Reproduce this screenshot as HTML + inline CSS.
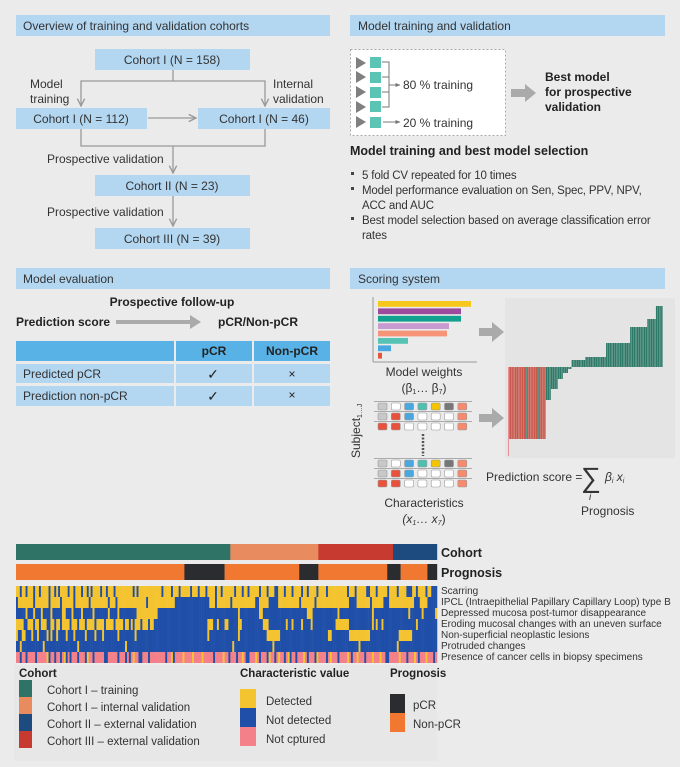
<!DOCTYPE html>
<html><head><meta charset="utf-8">
<style>
html,body{margin:0;padding:0;background:#ebebeb;}
svg{display:block;font-family:"Liberation Sans",sans-serif;}
</style></head>
<body>
<svg id="root" width="680" height="767" viewBox="0 0 680 767" xmlns="http://www.w3.org/2000/svg">
<rect x="0" y="0" width="680" height="767" fill="#ebebeb"/>
<defs>
<marker id="chev" viewBox="0 0 10 10" refX="9" refY="5" markerWidth="7" markerHeight="7" orient="auto-start-reverse"><path d="M1,1 L9,5 L1,9" fill="none" stroke="#999" stroke-width="1.5"/></marker>
<marker id="tri" viewBox="0 0 10 10" refX="9" refY="5" markerWidth="5" markerHeight="5" orient="auto"><path d="M0,1 L10,5 L0,9 z" fill="#777"/></marker>
</defs>

<g font-size="12" fill="#333">
<rect x="16" y="15" width="314" height="21" fill="#b3d6f1"/>
<text x="23" y="30">Overview of training and validation cohorts</text>
<rect x="350" y="15" width="315" height="21" fill="#b3d6f1"/>
<text x="358" y="30">Model training and validation</text>
<rect x="16" y="268" width="314" height="21" fill="#b3d6f1"/>
<text x="23" y="283">Model evaluation</text>
<rect x="350" y="268" width="315" height="21" fill="#b3d6f1"/>
<text x="358" y="283">Scoring system</text>
</g>

<g font-size="12" fill="#333">
<g stroke="#9a9a9a" stroke-width="1.3" fill="none">
<path d="M173,70 V81 H81 V106" marker-end="url(#chev)"/>
<path d="M173,81 H265 V106" marker-end="url(#chev)"/>
<path d="M148,118 H196" marker-end="url(#chev)"/>
<path d="M81,129 V146 H265 V129"/>
<path d="M173,146 V173" marker-end="url(#chev)"/>
<path d="M173,196 V226" marker-end="url(#chev)"/>
</g>
<rect x="95" y="49" width="155" height="21" fill="#b3d6f1"/>
<text x="172" y="64" text-anchor="middle">Cohort I (N = 158)</text>
<rect x="16" y="108" width="131" height="21" fill="#b3d6f1"/>
<text x="81" y="123" text-anchor="middle">Cohort I (N = 112)</text>
<rect x="198" y="108" width="132" height="21" fill="#b3d6f1"/>
<text x="264" y="123" text-anchor="middle">Cohort I (N = 46)</text>
<rect x="95" y="175" width="155" height="21" fill="#b3d6f1"/>
<text x="172" y="190" text-anchor="middle">Cohort II (N = 23)</text>
<rect x="95" y="228" width="155" height="21" fill="#b3d6f1"/>
<text x="172" y="243" text-anchor="middle">Cohort III (N = 39)</text>
<text x="30" y="88">Model</text><text x="30" y="103">training</text>
<text x="273" y="88">Internal</text><text x="273" y="103">validation</text>
<text x="47" y="163">Prospective validation</text>
<text x="47" y="216">Prospective validation</text>
</g>

<g>
<rect x="350.5" y="49.5" width="155" height="86" fill="#fff" stroke="#aaa" stroke-dasharray="2,2"/>
<g fill="#808080">
<path d="M356,57 l10,6 l-10,6z"/><path d="M356,71 l10,6 l-10,6z"/><path d="M356,86 l10,6 l-10,6z"/><path d="M356,101 l10,6 l-10,6z"/><path d="M356,116 l10,6 l-10,6z"/>
</g>
<g fill="#5cc4b4">
<rect x="370" y="57" width="11" height="11"/><rect x="370" y="72" width="11" height="11"/><rect x="370" y="87" width="11" height="11"/><rect x="370" y="101" width="11" height="11"/><rect x="370" y="117" width="11" height="11"/>
</g>
<g stroke="#777" stroke-width="1" fill="none">
<path d="M382,62 H389 V107 H382 M382,77 H389 M382,92 H389"/>
<path d="M389,85 H400" marker-end="url(#tri)"/>
<path d="M383,122 H400" marker-end="url(#tri)"/>
</g>
<text x="403" y="89" font-size="12" fill="#333">80 % training</text>
<text x="403" y="127" font-size="12" fill="#333">20 % training</text>
<path d="M511,89 H525 V84 L536,93 L525,102 V97 H511z" fill="#aaa"/>
<g font-size="12" font-weight="bold" fill="#222"><text x="545" y="81">Best model</text><text x="545" y="96">for prospective</text><text x="545" y="111">validation</text></g>
<text x="350" y="155" font-size="12.5" font-weight="bold" fill="#222">Model training and best model selection</text>
<g font-size="11.5" fill="#333" letter-spacing="-0.15">
<rect x="351" y="172" width="3" height="3" fill="#444"/><text x="362" y="179">5 fold CV repeated for 10 times</text>
<rect x="351" y="187" width="3" height="3" fill="#444"/><text x="362" y="194">Model performance evaluation on Sen, Spec, PPV, NPV,</text>
<text x="362" y="209">ACC and AUC</text>
<rect x="351" y="217" width="3" height="3" fill="#444"/><text x="362" y="224">Best model selection based on average classification error</text>
<text x="362" y="239">rates</text>
</g>
</g>

<g font-size="12" fill="#222">
<text x="172" y="306" text-anchor="middle" font-weight="bold">Prospective follow-up</text>
<text x="16" y="326" font-weight="bold">Prediction score</text>
<path d="M116,320 H190 V315 L201,322 L190,329 V324 H116z" fill="#aaa"/>
<text x="218" y="326" font-weight="bold">pCR/Non-pCR</text>
<g>
<rect x="16" y="341" width="158" height="20" fill="#58b2e5"/><rect x="176" y="341" width="76" height="20" fill="#58b2e5"/><rect x="254" y="341" width="76" height="20" fill="#58b2e5"/>
<text x="214" y="355" text-anchor="middle" font-weight="bold">pCR</text><text x="292" y="355" text-anchor="middle" font-weight="bold">Non-pCR</text>
<rect x="16" y="364" width="158" height="19" fill="#b3d6f1"/><rect x="176" y="364" width="76" height="19" fill="#b3d6f1"/><rect x="254" y="364" width="76" height="19" fill="#b3d6f1"/>
<rect x="16" y="386" width="158" height="20" fill="#b3d6f1"/><rect x="176" y="386" width="76" height="20" fill="#b3d6f1"/><rect x="254" y="386" width="76" height="20" fill="#b3d6f1"/>
<text x="23" y="378" fill="#333">Predicted pCR</text><text x="23" y="400" fill="#333">Prediction non-pCR</text>
<text x="213" y="379" text-anchor="middle" font-size="14">✓</text><text x="213" y="401" text-anchor="middle" font-size="14">✓</text>
<text x="292" y="378" text-anchor="middle">×</text><text x="292" y="399" text-anchor="middle">×</text>
</g>
</g>

<g id="weights"></g>
<line x1="373" y1="297" x2="373" y2="362" stroke="#999"/>
<line x1="373" y1="362" x2="477" y2="362" stroke="#999"/>
<g font-size="12" fill="#333" text-anchor="middle">
<text x="424" y="376">Model weights</text>
<text x="424" y="392">(β<tspan font-size="7" dy="2">1</tspan><tspan dy="-2">… β</tspan><tspan font-size="7" dy="2">7</tspan><tspan dy="-2">)</tspan></text>
<text x="424" y="507">Characteristics</text>
<text x="424" y="523" font-style="italic">(x<tspan font-size="7" dy="2">1</tspan><tspan dy="-2">… x</tspan><tspan font-size="7" dy="2">7</tspan><tspan dy="-2" font-style="normal">)</tspan></text>
</g>
<path d="M479,328 H492 V322 L504,332 L492,342 V336 H479z" fill="#aaa"/>
<path d="M479,414 H492 V408 L504,418 L492,428 V422 H479z" fill="#aaa"/>
<g id="subjects"></g>
<text transform="translate(360,458) rotate(-90)" font-size="12" fill="#333">Subject<tspan font-size="7" dy="2">1…J</tspan></text>
<rect x="505" y="298" width="170" height="160" fill="#e4e4e4"/>
<g id="waterfall"></g>
<g font-size="12" fill="#333">
<text x="486" y="481">Prediction score =</text>
<text x="581" y="487" font-size="28">∑</text>
<text x="605" y="481" font-style="italic">β<tspan font-size="7" dy="2">i</tspan><tspan dy="-2"> x</tspan><tspan font-size="7" dy="2">i</tspan></text>
<text x="589" y="500" font-style="italic" font-size="10">i</text>
<text x="581" y="515">Prognosis</text>
</g>

<rect x="14" y="665" width="423" height="96" fill="#e7e7e7"/>
<g id="heatmap"></g>
<g font-size="12.5" font-weight="bold" fill="#222">
<text x="441" y="557">Cohort</text><text x="441" y="577">Prognosis</text>
</g>
<g font-size="10" fill="#333">
<text x="441" y="594">Scarring</text>
<text x="441" y="605">IPCL (Intraepithelial Papillary Capillary Loop) type B</text>
<text x="441" y="616">Depressed mucosa post-tumor disappearance</text>
<text x="441" y="627">Eroding mucosal changes with an uneven surface</text>
<text x="441" y="638">Non-superficial neoplastic lesions</text>
<text x="441" y="649">Protruded changes</text>
<text x="441" y="660">Presence of cancer cells in biopsy specimens</text>
</g>

<g font-size="11.5" fill="#333">
<text x="19" y="677" font-weight="bold" fill="#222">Cohort</text>
<rect x="19" y="680" width="13" height="17" fill="#2e7366"/><text x="47" y="694">Cohort I – training</text>
<rect x="19" y="697" width="13" height="17" fill="#e88c60"/><text x="47" y="711">Cohort I – internal validation</text>
<rect x="19" y="714" width="13" height="17" fill="#1d4b80"/><text x="47" y="728">Cohort II – external validation</text>
<rect x="19" y="731" width="13" height="17" fill="#c63a30"/><text x="47" y="745">Cohort III – external validation</text>
</g>
<g font-size="11.5" fill="#333">
<text x="240" y="677" font-weight="bold" fill="#222">Characteristic value</text>
<rect x="240" y="689" width="16" height="19" fill="#f4c430"/><text x="266" y="705">Detected</text>
<rect x="240" y="708" width="16" height="19" fill="#1f4fa8"/><text x="266" y="724">Not detected</text>
<rect x="240" y="727" width="16" height="19" fill="#f4808a"/><text x="266" y="743">Not cptured</text>
</g>
<g font-size="11.5" fill="#333">
<text x="390" y="677" font-weight="bold" fill="#222">Prognosis</text>
<rect x="390" y="694" width="15" height="19" fill="#2a2c30"/><text x="413" y="709">pCR</text>
<rect x="390" y="713" width="15" height="19" fill="#f07830"/><text x="413" y="728">Non-pCR</text>
</g>
</svg>
<script>
const NS='http://www.w3.org/2000/svg';
const weightValues=[93,83,83,71,69,30,13,4];
const weightColors=['#f7c81c','#9b4a9c','#12a08e','#c79ad0','#f6947a','#56c3b5','#4aa8e0','#e2573c'];
const scoreValues=[-72,-72,-72,-72,-72,-72,-72,-72,-72,-72,-72,-72,-72,-72,-72,-72,-72,-72,-72,-72,-72,-72,-33,-33,-33,-22,-22,-22,-22,-12,-12,-12,-6,-6,-6,-2,-2,7,7,7,7,7,7,7,7,10,10,10,10,10,10,10,10,10,10,10,10,24,24,24,24,24,24,24,24,24,24,24,24,24,24,40,40,40,40,40,40,40,40,40,40,48,48,48,48,48,61,61,61,61];
const scoreClasses='rrrrrrrrrrgrrrrrrgrrrrggggggggggggggggggggggggggggggggggggggggggggggggggggggggggggggggggg';
const cohortCounts=[112,46,39,23];
const cohortNames=['training','internal','cohort-iii','cohort-ii'];
const prognosisRuns=[[88,'n'],[21,'p'],[3,'n'],[36,'n'],[10,'p'],[36,'n'],[7,'p'],[14,'n'],[5,'p']];
const charRows=[
"yybyybyyybyybyyyybyybybyyyybyybyyybyybybyyyybyybyyybyyyyyyyyybybyyyyyyyyyyyybyyyybyyybyyyyybyyybyyybyyyybyybyyyyyybyyybyybyyyyybyyybyyybbyyybyyybyyyybyybyyyybyyyybyyyyyyyyyybyyybyyyyybbyyybyyyyybyyyybyyyybbbyybyyyybyy",
"byyyyyyyybyyyyyyybyyyyybyyyyyybyyyyyyybyyyyyyyyybyyybyyyyyyyyyyyyyyybyyyyyyyyyyyyyybbbbbbbbbbbbbbbbbbyyybyyyyyyybyyyyyyyyyyyybbyyyyybbbbbyyyyyyyyyyybyyyyyyybyyyyyyyyyyyyyyyyybbbbyyyyyyybyyyyyybbbyyyyyyyyyyyyybbbyyyyb",
"bbbbbybbbybbbybbbbybbbbbyybbbybbbbybbbbbybbbbbbbybbbbybbbbbbbbbyyyyyyyyyyybbbbbbbbbbbbbbbbbbbbbbbbbbbbbbbbbbbbbbbbbbybbbbbbbbbbyybbbbbbbbbbbbbbbbbbbbbbbyyybbbbbbbbbbbbbybbbbbbbbbbbbbbbbbybbbbbbbbbbbbbbbbbbybbbbbbybbbbbbybbbb",
"yyyybbyyybyybyyybbyybyybyyyybyyybyyybyyyybyyyybyyyybyyyybyybybyyybyyybyybbbbbbbbbbbbbbbbbbbbbbbbbbbbyyybbybbbyybbbbbyybbbbbbbbbbbyyybbbbbbbbbybbybbbbybbbbybbbbbbbbbbbbyyyyyyybbbbbbbbbbbbybybbybbbbbbbbbbbbbbbbbybbbbbbb",
"ybbyybbbybbybbbbybybbybbbbybbbybbbbbybbbbybbbybbbbbbbybbbbbbbbybbbbbbbbbbbbbbbbbbbbbbbbbbbbbbbbbbbbbybbbbbbbbbbbbbbbybbbbbbbbbbbbbbyyyyyyybbbbbbbbbbbbbbbbbbbbbbbbbyybbbbbbbbbyyyyyyyyyyybbbbbbbbbbbbbbbyyyyyyybbbbbbbbbbbbbbb",
"bbybbbbbbbbbbbybbbbbbbbbbbbbbbbbybbbbbbbbbbbbbbbbbbbbbbbbybbbbbbbbbbbbbbbbbbbbbbbbbbbbbbbbbbbbbbbbbbbbbbbbbbbbbbbybbbbbbbbbbbbbbbbbbbbybbbbbbbbbbbbbbbbbbbbbbbbbbbbbbbbbbbbbbbbbbbbybbbbbbbbbbbbbbbbbbbybbbbbbbbbbbbbb",
"ppbppbppppbpppppybppbppbpybpbpppbpppbyppbpppppbbpppppbpppbpbpyppbbpppbppppppppbppybppppyppppyppppypppppbppppyppbpppbppypbbpppypbpppbyppbpyppbpybppbpppypbpppbyppppbpypppbppppypbppypppbpppypppyppbbpppppypppbpppypbpppypppbpyp"
];
const charColors={y:'#f4c430',b:'#1f4fa8',p:'#f4808a'};
const cohortColors=['#2e7366','#e88c60','#c63a30','#1d4b80'];
const progColors={n:'#f07830',p:'#2a2c30'};
const gridRows=[['lg','w','bl','tl','ye','dg','sa'],['lg','rd','bl','w','w','w','sa'],['rd','rd','w','w','w','w','sa']];
const gridColors={lg:'#c8c8c8',w:'#fff',bl:'#4aa8e0',tl:'#4fc0b0',ye:'#f5c400',dg:'#777',sa:'#f58a6e',rd:'#e8523c'};

const wX=v=>v*1; const wY=i=>301+i*7.4;
const wg=document.getElementById('weights');
weightValues.forEach((v,i)=>{const r=document.createElementNS(NS,'rect');
r.setAttribute('x',378);r.setAttribute('y',wY(i));r.setAttribute('width',wX(v));r.setAttribute('height',5.8);r.setAttribute('fill',weightColors[i]);


wg.appendChild(r);});

const base=367; const sY=v=>base-v; const sX=i=>508+i*1.72;
const wf=document.getElementById('waterfall');
scoreValues.forEach((v,i)=>{const r=document.createElementNS(NS,'rect');
const y0=Math.min(sY(v),base),h=Math.abs(sY(v)-base);
r.setAttribute('x',sX(i));r.setAttribute('y',y0);r.setAttribute('width',1.5);r.setAttribute('height',h);
r.setAttribute('fill',scoreClasses[i]==='r'?'#c9574b':'#2e7a68');


wf.appendChild(r);});
const pl=document.createElementNS(NS,'line');pl.setAttribute('x1',508.5);pl.setAttribute('x2',508.5);pl.setAttribute('y1',base);pl.setAttribute('y2',456);pl.setAttribute('stroke','#e8909a');


wf.appendChild(pl);

const sg=document.getElementById('subjects');
const gridY=[403,413,423,460,470,480];
gridY.forEach((y,ri)=>{const row=gridRows[ri%3];
const ln=document.createElementNS(NS,'line');ln.setAttribute('x1',374);ln.setAttribute('x2',472);ln.setAttribute('y1',y-1.5);ln.setAttribute('y2',y-1.5);ln.setAttribute('stroke','#aaa');


sg.appendChild(ln);
row.forEach((c,ci)=>{const r=document.createElementNS(NS,'rect');
r.setAttribute('x',378+ci*13.3);r.setAttribute('y',y);r.setAttribute('width',9);r.setAttribute('height',7);r.setAttribute('rx',1.5);
r.setAttribute('fill',gridColors[c]);r.setAttribute('stroke','#999');r.setAttribute('stroke-width','0.6');


sg.appendChild(r);});});
const dl=document.createElementNS(NS,'line');dl.setAttribute('x1',423);dl.setAttribute('x2',423);dl.setAttribute('y1',434);dl.setAttribute('y2',456);dl.setAttribute('stroke','#555');dl.setAttribute('stroke-width','2.5');dl.setAttribute('stroke-dasharray','2,1.5');


sg.appendChild(dl);

const hm=document.getElementById('heatmap');
const N=220; const cW=421/N; const cX=i=>16+i*cW;
let idx=0;
cohortCounts.forEach((n,k)=>{const r=document.createElementNS(NS,'rect');
r.setAttribute('x',cX(idx));r.setAttribute('y',544);r.setAttribute('width',n*cW+0.2);r.setAttribute('height',16);r.setAttribute('fill',cohortColors[k]);


hm.appendChild(r);idx+=n;});
idx=0;
prognosisRuns.forEach(([n,c])=>{const r=document.createElementNS(NS,'rect');
r.setAttribute('x',cX(idx));r.setAttribute('y',564);r.setAttribute('width',n*cW+0.2);r.setAttribute('height',16);r.setAttribute('fill',progColors[c]);


hm.appendChild(r);idx+=n;});
charRows.forEach((s,ri)=>{for(let i=0;i<N;i++){const r=document.createElementNS(NS,'rect');
r.setAttribute('x',cX(i));r.setAttribute('y',586+ri*11);r.setAttribute('width',cW+0.25);r.setAttribute('height',11);r.setAttribute('fill',charColors[s[i]]||'#1f4fa8');


hm.appendChild(r);}});
</script>
</body></html>
